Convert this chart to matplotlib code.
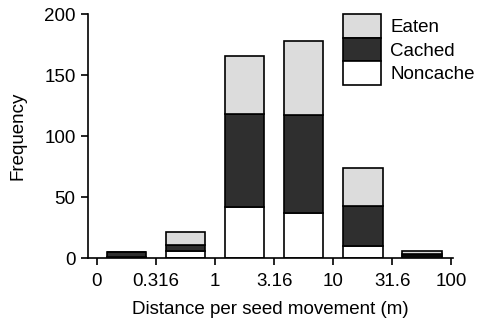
import matplotlib

matplotlib.use("Agg")
import matplotlib.pyplot as plt
import numpy as np

plt.rcParams["font.family"] = ["Liberation Sans", "DejaVu Sans"]

tick_labels = ["0", "0.316", "1", "3.16", "10", "31.6", "100"]
noncache = [1, 6, 42, 37, 10, 2]
cached = [4, 5, 76, 80, 33, 1]
eaten = [0, 10, 48, 61, 31, 3]

EATEN = "#dcdcdc"
CACHED = "#2f2f2f"
NONCACHE = "#ffffff"
FS = 13.5

fig = plt.figure(figsize=(4.79, 3.27), dpi=100)
ax = fig.add_axes([0.184, 0.211, 0.762, 0.745])

x = np.arange(len(noncache)) + 0.5
bottom2 = np.array(noncache)
bottom3 = bottom2 + np.array(cached)
kw = dict(width=0.67, edgecolor="black", linewidth=1.2)
ax.bar(x, noncache, color=NONCACHE, label="Noncache", **kw)
ax.bar(x, cached, bottom=bottom2, color=CACHED, label="Cached", **kw)
ax.bar(x, eaten, bottom=bottom3, color=EATEN, label="Eaten", **kw)

ax.set_xlim(-0.15, 6.03)
ax.set_ylim(0, 200)
ax.set_xticks(np.arange(len(tick_labels)))
ax.set_xticklabels(tick_labels)
ax.set_yticks([0, 50, 100, 150, 200])
for s in ["top", "right"]:
    ax.spines[s].set_visible(False)
for s in ["left", "bottom"]:
    ax.spines[s].set_linewidth(1.2)
ax.tick_params(direction="out", length=5, width=1.2, labelsize=FS, pad=4)
ax.tick_params(axis="x", pad=6)
ax.set_xlabel("Distance per seed movement (m)", fontsize=FS, labelpad=8)
ax.set_ylabel("Frequency", fontsize=FS, labelpad=13)

handles, labels = ax.get_legend_handles_labels()
ax.legend(handles[::-1], labels[::-1], loc="upper left",
          bbox_to_anchor=(0.699, 1.0), frameon=False, fontsize=FS,
          handlelength=2.0, handleheight=1.55, labelspacing=0.0,
          handletextpad=0.5, borderaxespad=0, borderpad=0)

fig.savefig("out.png", dpi=100)
